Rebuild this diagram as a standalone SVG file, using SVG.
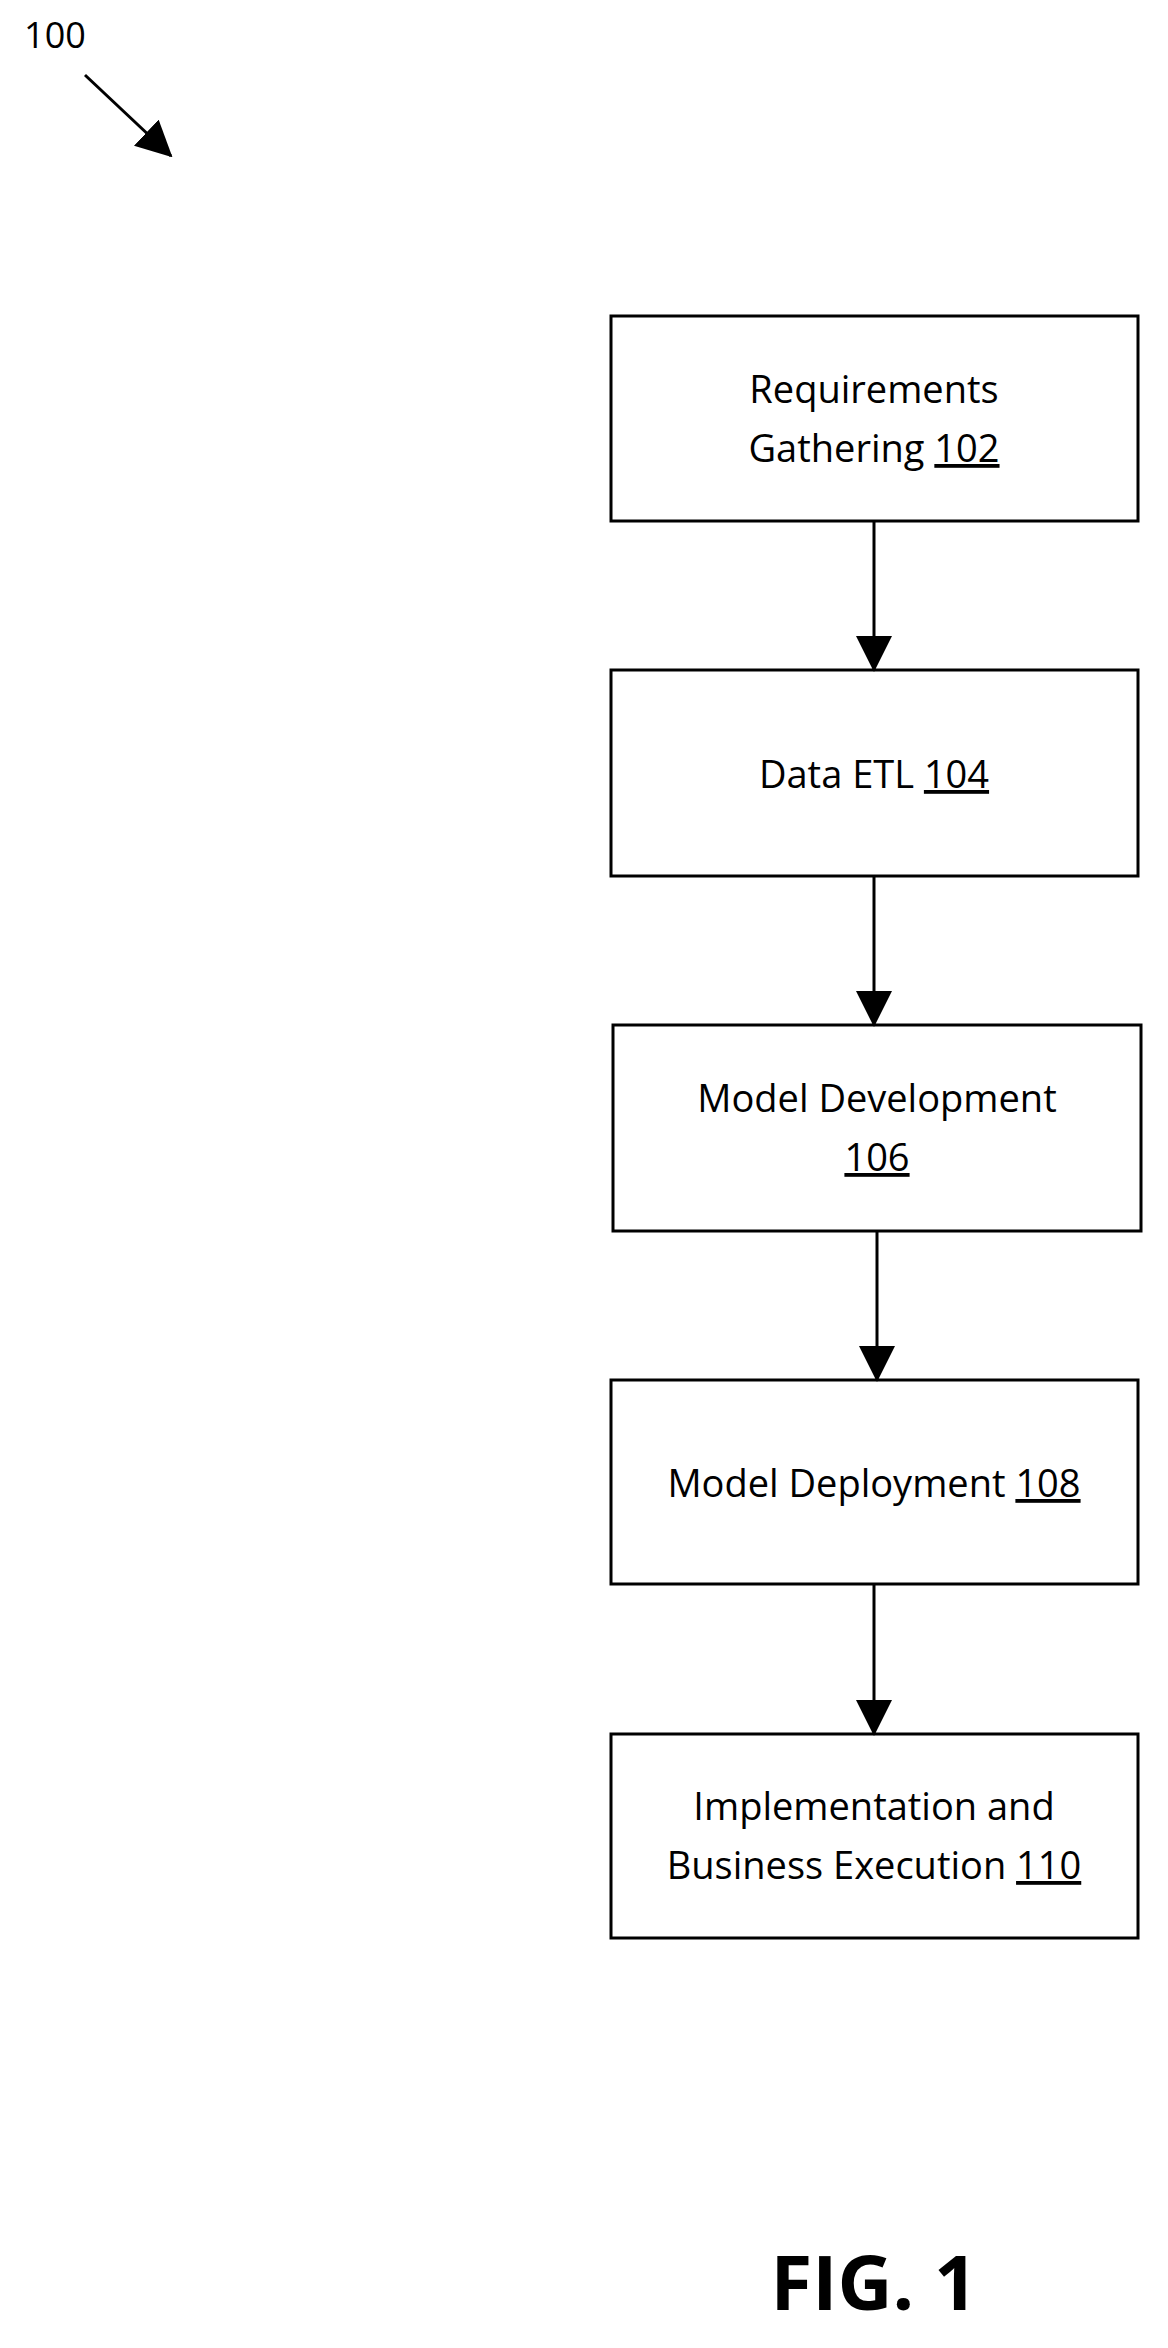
<svg xmlns="http://www.w3.org/2000/svg" width="1168" height="2348" viewBox="0 0 1168 2348">
<style>
rect{fill:#fff;stroke:#000;stroke-width:3}
text{font-family:"Open Sans","Liberation Sans",sans-serif;font-size:38px;text-anchor:middle;fill:#000}
.c{stroke:#000;stroke-width:3;fill:none}
</style>
<defs><marker id="a" markerWidth="12" markerHeight="12" refX="10" refY="6" orient="auto" markerUnits="userSpaceOnUse" viewBox="0 0 12 12"><path d="M0,0L12,6L0,12z" fill="#000"/></marker>
<marker id="b" markerWidth="36" markerHeight="36" refX="34" refY="18" orient="auto" markerUnits="userSpaceOnUse" viewBox="0 0 36 36"><path d="M0,0L36,18L0,36z" fill="#000"/></marker></defs>
<rect width="1168" height="2348" style="stroke:none"/>
<text x="55" y="48" style="font-size:36px">100</text>
<g id="n102"><rect x="611" y="316" width="527" height="205"/><text x="874" y="403">Requirements</text><text x="874" y="462">Gathering <tspan text-decoration="underline">102</tspan></text></g>
<g id="n104"><rect x="611" y="670" width="527" height="206"/><text x="874" y="788">Data ETL <tspan text-decoration="underline">104</tspan></text></g>
<g id="n106"><rect x="613" y="1025" width="528" height="206"/><text x="877" y="1112">Model Development</text><text x="877" y="1171"><tspan text-decoration="underline">106</tspan></text></g>
<g id="n108"><rect x="611" y="1380" width="527" height="204"/><text x="874" y="1497">Model Deployment <tspan text-decoration="underline">108</tspan></text></g>
<g id="n110"><rect x="611" y="1734" width="527" height="204"/><text x="874" y="1820">Implementation and</text><text x="874" y="1879">Business Execution <tspan text-decoration="underline">110</tspan></text></g>
<text x="874" y="2310" style="font-size:76px;font-weight:bold">FIG. 1</text>
<g id="connectors">
<line class="c" x1="85" y1="75" x2="171" y2="156" marker-end="url(#b)"/>
<line class="c" x1="874" y1="521" x2="874" y2="670" marker-end="url(#b)"/>
<line class="c" x1="874" y1="876" x2="874" y2="1025" marker-end="url(#b)"/>
<line class="c" x1="877" y1="1231" x2="877" y2="1380" marker-end="url(#b)"/>
<line class="c" x1="874" y1="1584" x2="874" y2="1734" marker-end="url(#b)"/>
</g>
</svg>
